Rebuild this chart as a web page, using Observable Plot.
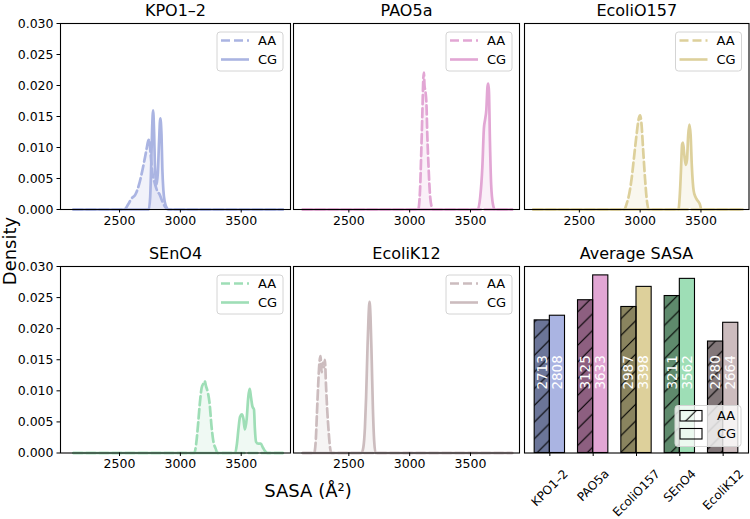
<!DOCTYPE html>
<html>
<head>
<meta charset="utf-8">
<script src="https://cdn.jsdelivr.net/npm/d3@7"></script>
<script src="https://cdn.jsdelivr.net/npm/@observablehq/plot@0.6"></script>
<style>
  body { margin: 0; background: #fff; }
  #fig { position: relative; width: 750px; height: 519px; overflow: hidden; font-family: "DejaVu Sans", sans-serif; }
  #fig svg { position: absolute; overflow: visible; }
</style>
</head>
<body>
<div id="fig"></div>
<script>
// ---- data ---------------------------------------------------------------
const organisms = ["KPO1–2", "PAO5a", "EcoliO157", "SEnO4", "EcoliK12"];
const cgColors = ["#aab4e2", "#e2a6d4", "#ddd09b", "#9edeb6", "#ccbcbe"];
const aaColors = ["#6b7598", "#8d5f80", "#8a845f", "#5e8a6c", "#827779"];
const avgAA = [2713, 3125, 2987, 3211, 2280];
const avgCG = [2808, 3633, 3398, 3562, 2664];

const sasaTicks = [2500, 3000, 3500];
const densityTicks = [0, 0.005, 0.01, 0.015, 0.02, 0.025, 0.03];
const kdeGrid = [2121, 3842];   // SASA range the densities were evaluated on

// density estimates, [SASA, density]
const kpoAA = [[2540,0],[2570,0.0008],[2600,0.0018],[2630,0.0024],[2660,0.0040],[2690,0.0065],[2720,0.0095],[2735,0.0110],[2745,0.0113],[2755,0.0090],[2770,0.0060],[2790,0.0042],[2810,0.0030],[2830,0.0024],[2850,0.0014],[2875,0.0004],[2900,0]];
const kpoCG = [[2740,0],[2752,0.002],[2760,0.007],[2768,0.013],[2776,0.016],[2784,0.0125],[2792,0.0065],[2804,0.0040],[2815,0.0060],[2825,0.0110],[2835,0.0147],[2845,0.0120],[2852,0.0065],[2860,0.0032],[2872,0.0012],[2890,0.0002],[2905,0]];
const paoAA = [[3070,0],[3085,0.003],[3095,0.009],[3105,0.016],[3112,0.021],[3117,0.0221],[3122,0.0200],[3130,0.0190],[3138,0.0170],[3145,0.0120],[3155,0.0070],[3165,0.0030],[3180,0.0005],[3195,0]];
const paoCG = [[3560,0],[3580,0.002],[3598,0.007],[3610,0.013],[3620,0.0145],[3630,0.016],[3640,0.0198],[3646,0.0203],[3652,0.019],[3660,0.011],[3670,0.004],[3685,0.0008],[3700,0]];
const o157AA = [[2870,0],[2890,0.001],[2910,0.0025],[2930,0.005],[2950,0.0085],[2970,0.012],[2990,0.0148],[3000,0.0152],[3010,0.014],[3025,0.0095],[3040,0.005],[3055,0.0015],[3070,0]];
const o157CG = [[3315,0],[3325,0.002],[3335,0.006],[3345,0.0105],[3352,0.0108],[3362,0.009],[3375,0.0072],[3385,0.008],[3395,0.012],[3405,0.0137],[3415,0.012],[3425,0.007],[3440,0.003],[3455,0.002],[3470,0.0015],[3490,0.0009],[3505,0]];
const senAA = [[3115,0],[3130,0.0015],[3145,0.0045],[3160,0.008],[3175,0.0105],[3190,0.0112],[3200,0.0116],[3210,0.0108],[3225,0.0098],[3240,0.008],[3255,0.0045],[3270,0.002],[3290,0.0007],[3305,0]];
const senCG = [[3450,0],[3465,0.0015],[3478,0.004],[3490,0.0058],[3505,0.0062],[3518,0.0055],[3530,0.0038],[3545,0.0055],[3558,0.009],[3570,0.0103],[3580,0.009],[3592,0.0075],[3605,0.007],[3612,0.004],[3622,0.0018],[3640,0.0015],[3660,0.0015],[3680,0.0008],[3700,0.0002],[3715,0]];
const k12AA = [[2215,0],[2228,0.002],[2238,0.0065],[2248,0.011],[2258,0.0145],[2267,0.0156],[2276,0.013],[2285,0.0145],[2295,0.0138],[2303,0.015],[2312,0.011],[2322,0.007],[2332,0.004],[2342,0.0015],[2355,0]];
const k12CG = [[2605,0],[2620,0.001],[2632,0.004],[2642,0.009],[2652,0.016],[2662,0.022],[2670,0.0243],[2678,0.022],[2688,0.015],[2698,0.007],[2708,0.002],[2720,0]];

const aaCurves = [kpoAA, paoAA, o157AA, senAA, k12AA];
const cgCurves = [kpoCG, paoCG, o157CG, senCG, k12CG];

// ---- layout -------------------------------------------------------------
const FONT = "DejaVu Sans";
const ROWS = [[23, 209], [265.5, 452]];
const COLS = [[60, 290, [2015, 3905]], [293, 519, [2045, 3903]], [523.5, 748, [2049, 3895]]];
const BAR_FRAME = [524, 748];
const LABEL_Y = 2000;       // top of the rotated value labels inside the bars
const fig = document.getElementById("fig");

const withGrid = (pts) => [[kdeGrid[0], 0], ...pts, [kdeGrid[1], 0]];

function lineLegend(svg, fr, ft, color) {
  const g = d3.select(svg).append("g").attr("font-family", FONT).attr("text-anchor", "start");
  const bx = fr - 73, by = ft + 9;
  g.append("rect").attr("x", bx).attr("y", by).attr("width", 66).attr("height", 39)
    .attr("rx", 3).attr("fill", "white").attr("fill-opacity", 0.8).attr("stroke", "#d4d4d4");
  [["AA", "9,4"], ["CG", null]].forEach(([lab, dash], k) => {
    const y = by + 8.5 + k * 19;
    g.append("line").attr("x1", bx + 4).attr("x2", bx + 32).attr("y1", y).attr("y2", y)
      .attr("stroke", color).attr("stroke-width", 2.6).attr("stroke-dasharray", dash);
    g.append("text").attr("x", bx + 41).attr("y", y).attr("dy", "0.36em")
      .attr("font-size", 13).attr("fill", "#000").text(lab);
  });
}

function densityPanel(i, row, col) {
  const [top, bottom] = ROWS[row];
  const [left, right, xdom] = COLS[col];
  const showY = col === 0;
  const mL = showY ? 62 : 4, mR = 4, mT = 30, mB = 36;
  const w = right - left, h = bottom - top;
  const color = cgColors[i];
  const aa = withGrid(aaCurves[i]), cg = withGrid(cgCurves[i]);
  const X = d => d[0], Y = d => d[1];
  const svg = Plot.plot({
    width: w + mL + mR, height: h + mT + mB,
    marginLeft: mL, marginRight: mR, marginTop: mT, marginBottom: mB,
    style: { background: "transparent", fontFamily: FONT, fontSize: "12.5px", color: "#000", overflow: "visible" },
    x: { domain: xdom },
    y: { domain: [0, 0.03], axis: showY ? undefined : null },
    marks: [
      Plot.areaY(aa, { x: X, y: Y, fill: color, fillOpacity: 0.17, curve: "monotone-x" }),
      Plot.areaY(cg, { x: X, y: Y, fill: color, fillOpacity: 0.17, curve: "monotone-x" }),
      Plot.line(aa, { x: X, y: Y, stroke: color, strokeWidth: 2.7, strokeDasharray: "9,4", curve: "monotone-x" }),
      Plot.line(cg, { x: X, y: Y, stroke: color, strokeWidth: 2.7, curve: "monotone-x" }),
      Plot.axisX({ ticks: sasaTicks, tickFormat: "d", tickSize: 3.5, tickPadding: 3, label: null }),
      ...(showY ? [Plot.axisY({ ticks: densityTicks, tickFormat: ".3f", tickSize: 3.5, tickPadding: 3.5, label: null })] : []),
      Plot.frame({ stroke: "#000", strokeWidth: 1.1 }),
      Plot.text([organisms[i]], { text: d => d, frameAnchor: "top", dy: -8, lineAnchor: "bottom", fontSize: 16 })
    ]
  });
  lineLegend(svg, mL + w, mT, color);
  svg.style.left = (left - mL) + "px";
  svg.style.top = (top - mT) + "px";
  fig.appendChild(svg);
}

function barPanel() {
  const [top, bottom] = ROWS[1];
  const [left, right] = BAR_FRAME;
  const mL = 4, mR = 4, mT = 30, mB = 66;
  const w = right - left, h = bottom - top;
  const bars = organisms.flatMap((o, i) => [
    { i, kind: "AA", value: avgAA[i], color: aaColors[i] },
    { i, kind: "CG", value: avgCG[i], color: cgColors[i] }
  ]);
  const x1 = d => d.kind === "AA" ? d.i - 0.35 : d.i;
  const x2 = d => d.kind === "AA" ? d.i : d.i + 0.35;
  const mid = d => d.kind === "AA" ? d.i - 0.175 : d.i + 0.175;

  // rotated category labels: box centred under the tick, its top at a fixed gap
  const ctx = document.createElement("canvas").getContext("2d");
  const catSize = 12;
  ctx.font = `${catSize}px "${FONT}"`;
  const catLabels = organisms.map((o, i) => {
    const L = ctx.measureText(o).width;
    return Plot.text([o], {
      x: () => i, text: d => d, frameAnchor: "bottom",
      dy: 15 + (L + catSize * 0.9) * 0.3536, rotate: -45, textAnchor: "middle", lineAnchor: "middle", fontSize: catSize
    });
  });

  const svg = Plot.plot({
    width: w + mL + mR, height: h + mT + mB,
    marginLeft: mL, marginRight: mR, marginTop: mT, marginBottom: mB,
    style: { background: "transparent", fontFamily: FONT, fontSize: "12px", color: "#000", overflow: "visible" },
    x: { domain: [-0.585, 4.585] },
    y: { domain: [0, 3815], axis: null },
    color: { type: "identity" },
    marks: [
      Plot.rect(bars, { x1, x2, y1: () => 0, y2: "value", fill: "color" }),
      Plot.rect(bars.filter(d => d.kind === "AA"), { x1, x2, y1: () => 0, y2: "value", fill: "url(#aaHatch)" }),
      Plot.rect(bars, { x1, x2, y1: () => 0, y2: "value", fill: "none", stroke: "#000", strokeWidth: 1.1 }),
      Plot.text(bars, { x: mid, y: () => LABEL_Y, text: d => String(d.value), rotate: -90,
        textAnchor: "end", lineAnchor: "middle", fill: "white", fontSize: 13.5 }),
      Plot.axisX({ ticks: [0, 1, 2, 3, 4], tickFormat: () => "", tickSize: 3.5, label: null }),
      ...catLabels,
      Plot.frame({ stroke: "#000", strokeWidth: 1.1 }),
      Plot.text(["Average SASA"], { text: d => d, frameAnchor: "top", dy: -8, lineAnchor: "bottom", fontSize: 16 })
    ]
  });

  const s = d3.select(svg);
  s.insert("defs", ":first-child").html(
    `<pattern id="aaHatch" patternUnits="userSpaceOnUse" width="16.7" height="16.7">
       <path d="M-4,4 L4,-4 M0,16.7 L16.7,0 M12.7,20.7 L20.7,12.7" stroke="#000" stroke-width="1.1"/>
     </pattern>`);

  // legend for the two bar styles
  const fr = mL + w, fb = mT + h;
  const bx = fr - 73, by = fb - 47;
  const g = s.append("g").attr("font-family", FONT).attr("text-anchor", "start");
  g.append("rect").attr("x", bx).attr("y", by).attr("width", 66).attr("height", 41)
    .attr("rx", 3).attr("fill", "white").attr("fill-opacity", 0.8).attr("stroke", "#d4d4d4");
  [["AA", "url(#aaHatch)"], ["CG", "none"]].forEach(([lab, fill], k) => {
    const y = by + 5 + k * 18;
    g.append("rect").attr("x", bx + 5).attr("y", y).attr("width", 22).attr("height", 10.5)
      .attr("fill", fill).attr("stroke", "#000").attr("stroke-width", 1.1);
    g.append("text").attr("x", bx + 42).attr("y", y + 5.25).attr("dy", "0.36em")
      .attr("font-size", 13).attr("fill", "#000").text(lab);
  });

  svg.style.left = (left - mL) + "px";
  svg.style.top = (top - mT) + "px";
  fig.appendChild(svg);
}

// ---- draw ---------------------------------------------------------------
const placement = [[0, 0], [0, 1], [0, 2], [1, 0], [1, 1]];
placement.forEach(([r, c], i) => densityPanel(i, r, c));
barPanel();

// shared axis labels
const labels = d3.select(fig).append("svg").attr("width", 750).attr("height", 519)
  .style("left", "0px").style("top", "0px").attr("font-family", FONT);
labels.append("text").attr("x", 308).attr("y", 497).attr("text-anchor", "middle")
  .attr("font-size", 18).text("SASA (Å²)");
labels.append("text").attr("transform", "translate(15.5,251) rotate(-90)").attr("text-anchor", "middle")
  .attr("font-size", 18).text("Density");
</script>
</body>
</html>
